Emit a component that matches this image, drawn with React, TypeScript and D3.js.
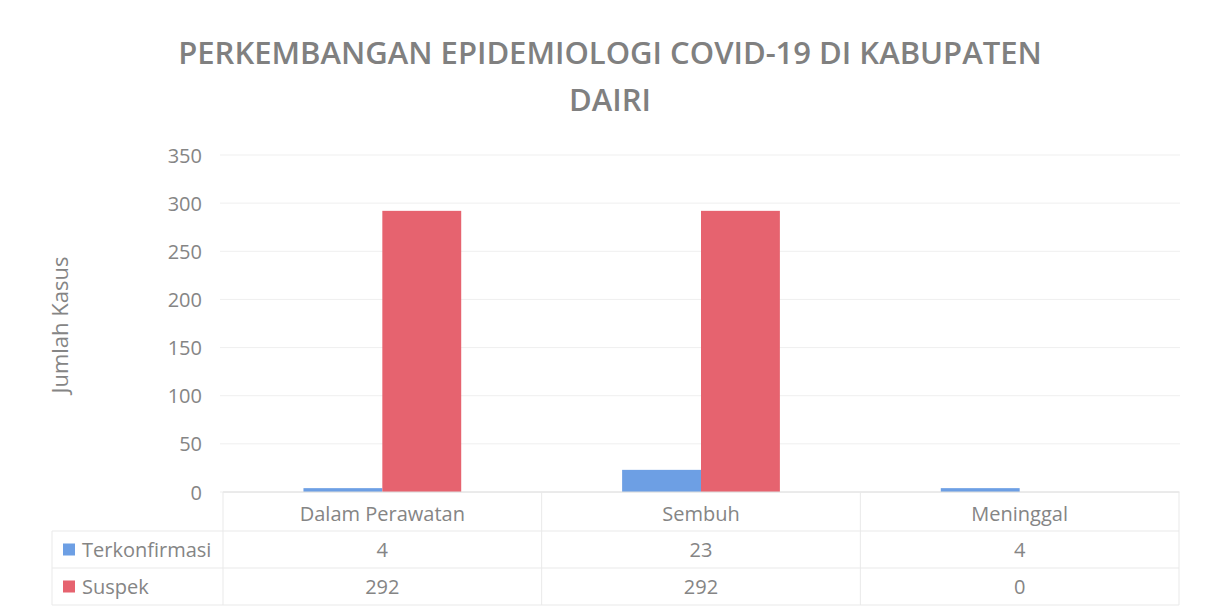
import { useMemo } from "react";
import * as d3 from "d3";

const categories = ["Dalam Perawatan", "Sembuh", "Meninggal"];
const seriesNames = ["Terkonfirmasi", "Suspek"];
const terkonfirmasi = [4, 23, 4];
const suspek = [292, 292, 0];
const yTicks = [0, 50, 100, 150, 200, 250, 300, 350];

const COLORS = ["#6d9fe4", "#e6636f"];
const TEXT = "#858585";
const FONT = "'Open Sans', 'Noto Sans', sans-serif";

export default function App() {
  const width = 1209;
  const height = 613;
  const MARGIN = { top: 155, right: 30, bottom: 121, left: 223 };
  const plotRight = width - MARGIN.right;
  const plotBottom = height - MARGIN.bottom;

  const series = [terkonfirmasi, suspek];

  const xScale = useMemo(
    () => d3.scaleBand().domain(categories).range([MARGIN.left, plotRight]).paddingInner(0).paddingOuter(0),
    []
  );
  const inner = useMemo(
    () => d3.scaleBand().domain(seriesNames).range([0, xScale.bandwidth()]).paddingInner(0).paddingOuter(1.02),
    [xScale]
  );
  const yScale = useMemo(() => d3.scaleLinear().domain([0, 350]).range([plotBottom, MARGIN.top]), []);

  const rowTop = [plotBottom, 531, 568];
  const rowBottom = 605;
  const legendLeft = 52;

  return (
    <svg width={width} height={height} style={{ position: "absolute", left: 0, top: 0, background: "#fff" }}>
      {/* title */}
      <g fontFamily={FONT} fill="#808080" fontWeight={600} fontSize={31} textAnchor="middle">
        <text x={610} y={64}>PERKEMBANGAN EPIDEMIOLOGI COVID-19 DI KABUPATEN</text>
        <text x={610} y={111}>DAIRI</text>
      </g>

      {/* grid */}
      {yTicks.map((t) => (
        <g key={t}>
          <line x1={MARGIN.left - 3} x2={plotRight + 1} y1={yScale(t)} y2={yScale(t)} stroke="#efefef" strokeWidth={1} />
          <text
            x={202}
            y={yScale(t)}
            textAnchor="end"
            dominantBaseline="central"
            fontFamily={FONT}
            fontSize={20}
            fill={TEXT}
          >
            {t}
          </text>
        </g>
      ))}

      {/* y title */}
      <text
        transform={`translate(68, 325) rotate(-90)`}
        textAnchor="middle"
        fontFamily={FONT}
        fontSize={22}
        fill={TEXT}
      >
        Jumlah Kasus
      </text>

      {/* bars */}
      {categories.map((c, ci) => (
        <g key={c}>
          {series.map((vals, si) => {
            const v = vals[ci];
            if (v <= 0) return null;
            const x = (xScale(c) || 0) + (inner(seriesNames[si]) || 0);
            return (
              <rect
                key={si}
                x={x}
                y={yScale(v)}
                width={inner.bandwidth()}
                height={plotBottom - yScale(v)}
                fill={COLORS[si]}
              />
            );
          })}
        </g>
      ))}

      {/* data table */}
      <g stroke="#e9e9e9" strokeWidth={1} fill="none">
        <line x1={MARGIN.left} x2={plotRight} y1={plotBottom} y2={plotBottom} stroke="#dedede" />
        <line x1={legendLeft} x2={plotRight} y1={rowTop[1]} y2={rowTop[1]} />
        <line x1={legendLeft} x2={plotRight} y1={rowTop[2]} y2={rowTop[2]} />
        <line x1={legendLeft} x2={plotRight} y1={rowBottom} y2={rowBottom} />
        <line x1={legendLeft} x2={legendLeft} y1={rowTop[1]} y2={rowBottom} />
        {categories.map((c) => (
          <line key={c} x1={xScale(c)} x2={xScale(c)} y1={plotBottom} y2={rowBottom} />
        ))}
        <line x1={plotRight} x2={plotRight} y1={plotBottom} y2={rowBottom} />
      </g>

      <g fontFamily={FONT} fontSize={20} fill={TEXT} textAnchor="middle">
        {categories.map((c, ci) => (
          <g key={c}>
            <text x={(xScale(c) || 0) + xScale.bandwidth() / 2} y={(rowTop[0] + rowTop[1]) / 2 + 2} dominantBaseline="central">
              {c}
            </text>
            {series.map((vals, si) => (
              <text
                key={si}
                x={(xScale(c) || 0) + xScale.bandwidth() / 2}
                y={((rowTop[si + 1] + (si === 0 ? rowTop[2] : rowBottom)) / 2)}
                dominantBaseline="central"
              >
                {vals[ci]}
              </text>
            ))}
          </g>
        ))}
      </g>

      {/* legend keys */}
      {seriesNames.map((s, si) => {
        const yc = (rowTop[si + 1] + (si === 0 ? rowTop[2] : rowBottom)) / 2;
        return (
          <g key={s}>
            <rect x={63} y={yc - 6} width={12} height={12} fill={COLORS[si]} />
            <text x={82} y={yc} dominantBaseline="central" fontFamily={FONT} fontSize={20} fill={TEXT}>
              {s}
            </text>
          </g>
        );
      })}
    </svg>
  );
}
